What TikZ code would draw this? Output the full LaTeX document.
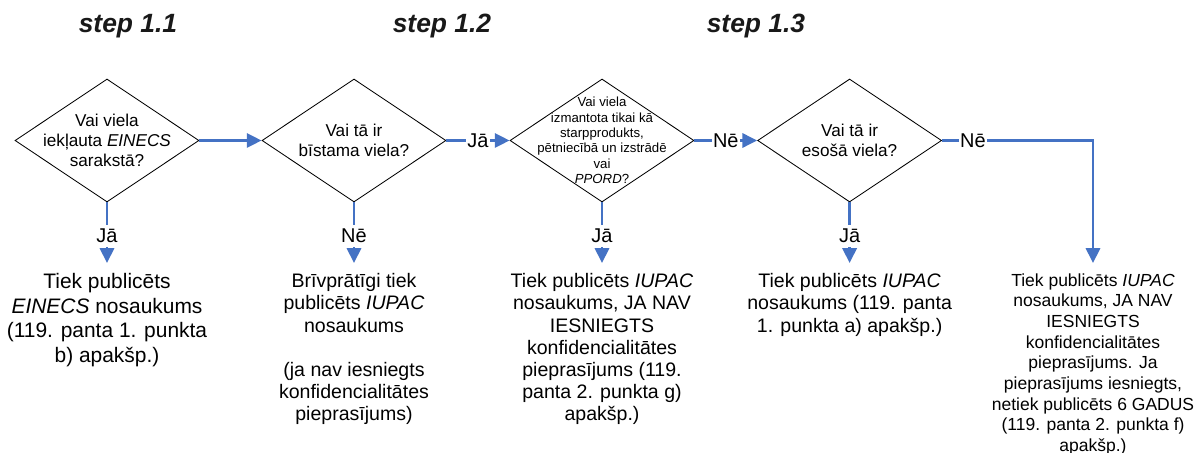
\documentclass[tikz,border=0pt]{standalone}
\usepackage{fontspec}
\setmainfont{Liberation Sans}
\usetikzlibrary{arrows.meta}
\usetikzlibrary{shapes.geometric}
\usepackage{xcolor}
\definecolor{flowblue}{RGB}{68,114,196}
\tikzset{
    dia/.style={diamond, draw=black, line width=0.6pt, minimum width=4.6cm, minimum height=3.075cm, inner sep=0pt},
    dtxt/.style={align=center, inner sep=0pt, font=\fontsize{12.2}{14.2}\selectfont},
    dsmall/.style={align=center, inner sep=0pt, font=\fontsize{9.4}{11}\selectfont},
    conn/.style={flowblue, line width=2.1pt, -{Triangle[width=10pt,length=10.5pt]}},
    lbl/.style={fill=white, text=black, inner xsep=1pt, inner ysep=3pt, font=\fontsize{14.2}{17}\selectfont},
    outc/.style={align=center, anchor=north, inner sep=0pt, outer ysep=7.5pt, font=\fontsize{13.9}{15.8}\selectfont},
    ttl/.style={anchor=base, text=black!90, font=\fontsize{18.8}{22}\selectfont\bfseries\itshape}
}

\begin{document}
\begin{tikzpicture}
        \useasboundingbox (0,0) rectangle (29.875,-11.325);

        \node[ttl] (s1) at (3.2,-0.825) {step 1.1};
        \node[ttl] (s2) at (11.05,-0.825) {step 1.2};
        \node[ttl] (s3) at (18.9,-0.825) {step 1.3};

        \node[dia] (d1) at (2.675,-3.5125) {};
        \node[dia] (d2) at (8.85,-3.5125) {};
        \node[dia] (d3) at (15.05,-3.5125) {};
        \node[dia] (d4) at (21.24,-3.5125) {};

        \node[dtxt] (t1) at (d1) {Vai viela\\iekļauta \textit{EINECS}\\sarakstā?};
        \node[dtxt] (t2) at (d2) {Vai tā ir\\bīstama viela?};
        \node[dsmall] (t3) at (d3) {Vai viela\\izmantota tikai kā\\starpprodukts,\\pētniecībā un izstrādē\\vai\\\textit{PPORD}?};
        \node[dtxt] (t4) at (d4) {Vai tā ir\\esošā viela?};

        \node[outc, font=\fontsize{14.9}{17.4}\selectfont] (o1) at (2.675,-6.575) {Tiek publicēts\\\textit{EINECS} nosaukums\\(119. panta 1. punkta\\b) apakšp.)};
        \node[outc] (o2) at (8.85,-6.575) {Brīvprātīgi tiek\\publicēts \textit{IUPAC}\\nosaukums\\~\\(ja nav iesniegts\\konfidencialitātes\\pieprasījums)};
        \node[outc] (o3) at (15.05,-6.575) {Tiek publicēts \textit{IUPAC}\\nosaukums, JA NAV\\IESNIEGTS\\konfidencialitātes\\pieprasījums (119.\\panta 2. punkta g)\\apakšp.)};
        \node[outc] (o4) at (21.24,-6.575) {Tiek publicēts \textit{IUPAC}\\nosaukums (119. panta\\1. punkta a) apakšp.)};
        \node[outc, font=\fontsize{12.45}{14.7}\selectfont] (o5) at (27.325,-6.575) {Tiek publicēts \textit{IUPAC}\\nosaukums, JA NAV\\IESNIEGTS\\konfidencialitātes\\pieprasījums. Ja\\pieprasījums iesniegts,\\netiek publicēts 6 GADUS\\(119. panta 2. punkta f)\\apakšp.)};

        \draw[conn] (d1.east) -- (d2.west);
        \draw[conn] (d2.east) -- node[lbl] (j2) {Jā} (d3.west);
        \draw[conn] (d3.east) -- node[lbl] (n3) {Nē} (d4.west);
        \draw[conn] (d4.east) -- node[lbl, pos=0.205] (n4) {Nē} (d4.east -| o5.north) -- (o5.north);

        \draw[conn] (d1.south) -- node[lbl, pos=0.55] (j1) {Jā} (o1.north);
        \draw[conn] (d2.south) -- node[lbl, pos=0.55] (n2) {Nē} (o2.north);
        \draw[conn] (d3.south) -- node[lbl, pos=0.55] (j3) {Jā} (o3.north);
        \draw[conn] (d4.south) -- node[lbl, pos=0.55] (j4) {Jā} (o4.north);

    \end{tikzpicture}
\end{document}
